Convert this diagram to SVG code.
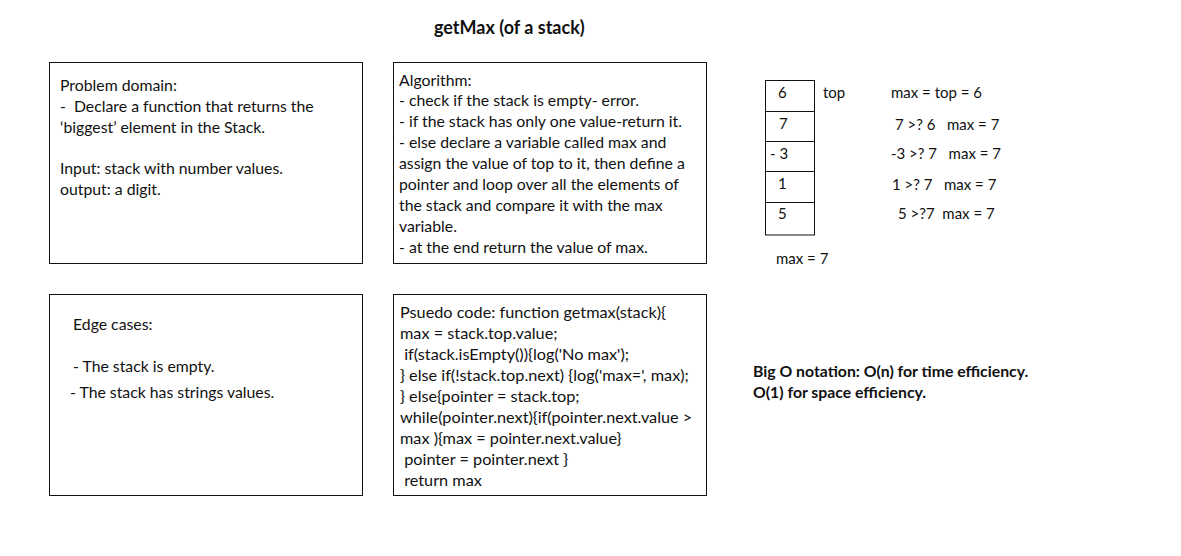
<svg xmlns="http://www.w3.org/2000/svg" width="1181" height="556" viewBox="0 0 1181 556">
<style>
text{font-family:Lato,"Noto Sans","Liberation Sans",sans-serif;font-size:15.8px;fill:#111;white-space:pre}
.b{font-weight:bold}
.t{font-weight:bold;font-size:18px}
.s{font-size:15px}
.p{font-size:16.25px}
.box{fill:#fff;stroke:#111;stroke-width:1}
</style>
<rect width="1181" height="556" fill="#fff"/>
<text id="title" class="t" x="434" y="34">getMax (of a stack)</text>
<g id="problem">
<rect class="box" x="49.5" y="62.5" width="313" height="201"/>
<text x="60" y="91">Problem domain:</text>
<text x="60" y="112">-  Declare a function that returns the</text>
<text x="60" y="133">‘biggest’ element in the Stack.</text>
<text x="60" y="174">Input: stack with number values.</text>
<text x="60" y="195">output: a digit.</text>
</g>
<g id="algorithm">
<rect class="box" x="393.5" y="62.5" width="313" height="201"/>
<text x="399" y="86">Algorithm:</text>
<text x="399" y="106">- check if the stack is empty- error.</text>
<text x="399" y="127">- if the stack has only one value-return it.</text>
<text x="399" y="148">- else declare a variable called max and</text>
<text x="399" y="169">assign the value of top to it, then define a</text>
<text x="399" y="190">pointer and loop over all the elements of</text>
<text x="399" y="211">the stack and compare it with the max</text>
<text x="399" y="232">variable.</text>
<text x="399" y="253">- at the end return the value of max.</text>
</g>
<g id="edge">
<rect class="box" x="49.5" y="294.5" width="313" height="201"/>
<text x="73" y="330">Edge cases:</text>
<text x="73" y="372">- The stack is empty.</text>
<text x="70" y="398">- The stack has strings values.</text>
</g>
<g id="pseudo">
<rect class="box" x="393.5" y="294.5" width="313" height="201"/>
<text class="p" x="400" y="318">Psuedo code: function getmax(stack){</text>
<text class="p" x="400" y="339">max = stack.top.value;</text>
<text class="p" x="400" y="360"> if(stack.isEmpty()){log('No max');</text>
<text class="p" x="400" y="381">} else if(!stack.top.next) {log('max=', max);</text>
<text class="p" x="400" y="402">} else{pointer = stack.top;</text>
<text class="p" x="400" y="423">while(pointer.next){if(pointer.next.value &gt;</text>
<text class="p" x="400" y="444">max ){max = pointer.next.value}</text>
<text class="p" x="400" y="465"> pointer = pointer.next }</text>
<text class="p" x="400" y="486"> return max</text>
</g>
<g id="stack">
<rect class="box" x="765.5" y="80.5" width="49" height="154.5"/>
<line x1="765.5" y1="111.5" x2="814.5" y2="111.5" stroke="#111"/>
<line x1="765.5" y1="141.5" x2="814.5" y2="141.5" stroke="#111"/>
<line x1="765.5" y1="171.5" x2="814.5" y2="171.5" stroke="#111"/>
<line x1="765.5" y1="202.5" x2="814.5" y2="202.5" stroke="#111"/>
<text class="s" x="778" y="98">6</text>
<text class="s" x="779" y="129">7</text>
<text class="s" x="770" y="159">- 3</text>
<text class="s" x="778" y="189">1</text>
<text class="s" x="778" y="219">5</text>
<text class="s" x="823" y="98">top</text>
<text class="s" x="776" y="264">max = 7</text>
</g>
<g id="trace">
<text class="s" x="891" y="98">max = top = 6</text>
<text class="s" x="895" y="130">7 &gt;? 6   max = 7</text>
<text class="s" x="891" y="159">-3 &gt;? 7   max = 7</text>
<text class="s" x="892" y="190">1 &gt;? 7   max = 7</text>
<text class="s" x="898" y="219">5 &gt;?7  max = 7</text>
</g>
<g id="bigo">
<text class="b" x="753" y="377">Big O notation: O(n) for time efficiency.</text>
<text class="b" x="753" y="398">O(1) for space efficiency.</text>
</g>
<g id="connectors"/>
</svg>
